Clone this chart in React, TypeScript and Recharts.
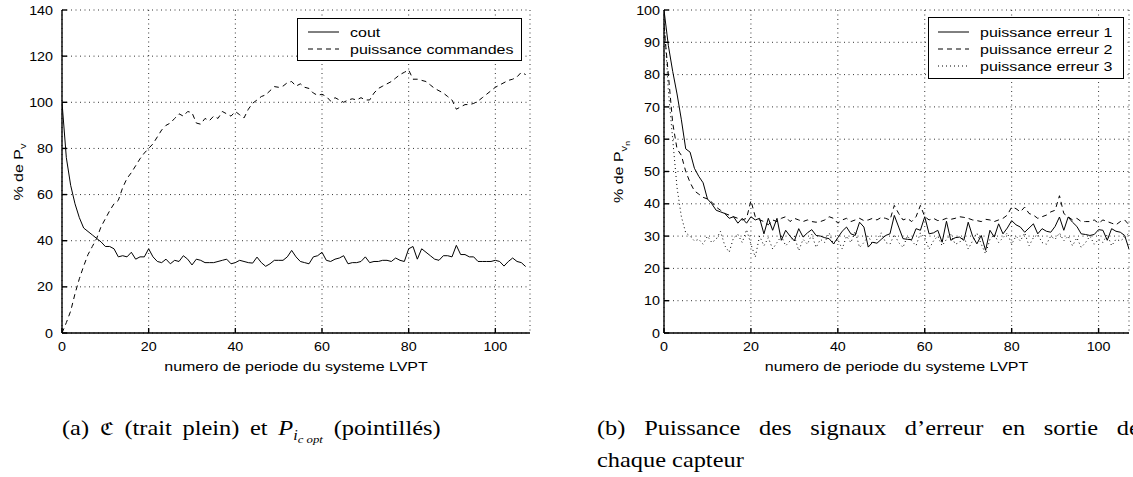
import React from 'react';
import { LineChart, Line, XAxis, YAxis, CartesianGrid, Legend } from 'recharts';

// ---------- data ----------
const periods = Array.from({ length: 108 }, (_, i) => i);

const coutValues = [
  100, 76, 64, 56, 50, 45.5, 44, 42.5, 41, 39.5,
  37.5, 37.5, 36.5, 33, 33.5, 33, 35, 32, 33, 33,
  36.5, 33, 31, 30.5, 32, 30, 31.5, 31, 33.5, 32,
  29.5, 32, 31.5, 30.5, 30.5, 30.5, 31, 31.5, 32, 30,
  30.5, 31.5, 31, 30.5, 30.3, 32.9, 30.5, 28.9, 30, 31.5,
  31.5, 31.5, 33, 35.8, 33, 31, 30.5, 30, 33, 33.5,
  35, 31.5, 31, 32, 32.5, 33.5, 30, 30.5, 30.5, 31,
  33, 30.5, 31, 31, 31.5, 31.5, 31, 32.5, 31.5, 31,
  36.5, 37.5, 32, 36.5, 35, 33.5, 32, 31.5, 33.5, 33.5,
  33, 38, 34, 34, 33, 33, 31, 31, 31, 31,
  31.5, 31, 29, 31, 32.5, 31, 30.5, 28.8,
];

const commandesValues = [
  0, 4.5, 9.5, 17, 23.5, 29, 34, 37.5, 41, 46,
  49.5, 53, 56, 57.5, 63, 67, 69.5, 72.5, 75.5, 78,
  80, 82, 85, 88, 90, 91, 93, 95, 94, 96,
  95.5, 91, 90.5, 93, 92, 94, 93, 96, 95, 94,
  96, 94.6, 93.2, 97, 99.6, 101, 102.5, 103.2, 105, 106.8,
  106.5, 107, 108.5, 109, 107, 108, 106.5, 106, 104, 103,
  103.5, 102.5, 100.5, 102, 101, 100, 101, 101.5, 101, 102,
  101, 101, 104, 106, 107, 108, 109, 110.5, 112, 113,
  114, 110, 110, 109.5, 109, 107.5, 106, 105, 104, 102.5,
  101, 97, 98, 99, 99, 99.5, 100.5, 102, 103.5, 105,
  106.5, 107.5, 108.5, 109.5, 110, 111, 113, 112,
];

const err1Values = [
  100, 89, 81, 74, 66, 57, 56, 51, 48.5, 46.5,
  41.5, 40, 38, 37.5, 37, 35.5, 36, 34, 35.5, 34,
  36, 35, 35.5, 30.7, 35.5, 31.8, 35.5, 28.7, 31.8, 30,
  28.5, 32.3, 29.7, 31, 32, 30.2, 30, 29.5, 29.2, 27.6,
  29.5, 31.5, 32.8, 30.7, 30.2, 34.3, 32.8, 26.6, 28.1, 27.8,
  29, 30.2, 30.7, 36.4, 32.8, 29.2, 29, 28.9, 32.3, 31.8,
  36, 30.7, 31, 31.8, 28.1, 34.6, 28.7, 29.5, 29.7, 28.7,
  34.3, 30, 27.6, 30.2, 25.6, 31.8, 29.7, 33.8, 30.7, 32.5,
  34.8, 33.5, 32.8, 31.2, 32.5, 33.8, 30.7, 32.3, 31.5, 31.2,
  33, 35.9, 31.8, 35.9, 34.3, 33, 30.7, 30.5, 30.2, 30.5,
  32, 31.8, 28.7, 32.3, 31.5, 31.2, 30.2, 26,
];

const err2Values = [
  95, 80, 65, 57, 55, 50, 46.6, 44, 43, 42,
  41.5, 40.5, 39, 38, 37, 36.5, 36, 35.5, 35, 35.5,
  41, 36, 35, 34.5, 33.5, 35, 34.5, 35.5, 36, 34.5,
  35.5, 35, 34.5, 35, 34.5, 34.3, 34.5, 35, 36, 35.5,
  34, 35, 35.5, 34.5, 35, 35.5, 34.8, 35, 35.5, 35,
  35.8, 35.5, 35, 39.5, 37, 35, 35.5, 34.5, 36, 39.5,
  36, 35, 35.5, 34.8, 35, 35.5, 35.2, 35.5, 36, 35.8,
  35.5, 35, 34.8, 34.5, 35.2, 35, 34.5, 35, 35.5, 36.5,
  39, 38.5, 37.5, 39, 37, 36.5, 35.5, 36, 36.5, 37.5,
  38, 42.5, 37, 36, 35, 35.5, 34.5, 34.5, 34.5, 35,
  34, 35, 34.5, 34, 33.5, 34.5, 35, 33.5,
];

const err3Values = [
  98, 75, 60, 45, 36, 31, 30, 28.5, 29, 27.5,
  30, 28, 29, 31.5, 27, 25, 29.5, 30.5, 28, 32,
  27.5, 23.5, 30, 27, 29.5, 26, 28, 30, 27, 28.5,
  30, 25.5, 29, 27.5, 30.5, 26.5, 29, 28, 31, 27.5,
  29, 26, 30, 28, 31.5, 26.5, 28, 30, 27.5, 29,
  31, 28, 27.5, 30.5, 28, 26.5, 30, 28.5, 27, 31,
  29.5, 26, 28.5, 30, 27, 29, 30.5, 27.5, 28, 30,
  26, 28.5, 31, 27.5, 24.5, 29, 30.5, 28, 29.5, 31,
  27.5, 30, 28.5, 31, 27, 29.5, 30.5, 28, 27.5, 30,
  29, 31, 28.5, 30, 27, 29.5, 26.5, 28, 30, 27.5,
  29, 28, 30.5, 27, 29, 28.5, 29.5, 31,
];

const xTicks = [0, 20, 40, 60, 80, 100];
const leftYTicks = [0, 20, 40, 60, 80, 100, 120, 140];
const rightYTicks = [0, 10, 20, 30, 40, 50, 60, 70, 80, 90, 100];

const leftNames = ['cout', 'puissance commandes'];
const rightNames = ['puissance erreur 1', 'puissance erreur 2', 'puissance erreur 3'];
const xLabel = 'numero de periode du systeme LVPT';

const leftData = periods.map((x, i) => ({ x, cout: coutValues[i], commandes: commandesValues[i] }));
const rightData = periods.map((x, i) => ({
  x,
  e1: err1Values[i],
  e2: err2Values[i],
  e3: err3Values[i],
}));

// ---------- styles ----------
const SANS = "'Liberation Sans', Arial, Helvetica, sans-serif";
const SERIF = "'Liberation Serif', 'DejaVu Serif', serif";
const DASH = '5 4';
const DOT = '1 3';
const AX = 1.4;
const TICK_SX = 1.1;
const TEXT_SX = 1.23;

const Tick = (props: any) => {
  const { x, y, payload, textAnchor, verticalAnchor } = props;
  const dy = verticalAnchor === 'start' ? '0.71em' : '0.355em';
  return (
    <text transform={`translate(${x},${y}) scale(${TICK_SX},1)`} textAnchor={textAnchor} dy={dy}
      fontSize={13} fontFamily={SANS} fill="#000">
      {payload.value}
    </text>
  );
};

const XLabel = (props: any) => {
  const vb = props.viewBox || {};
  const cx = (vb.x || 0) + (vb.width || 0) / 2;
  const by = (vb.y || 0) + (vb.height || 0) - 9;
  return (
    <text transform={`translate(${cx},${by}) scale(${TEXT_SX},1)`} textAnchor="middle" fontSize={13}
      fontFamily={SANS} fill="#000">
      {xLabel}
    </text>
  );
};

type Item = { name: string; dash?: string };

const LegendBox = ({ items, width, height, sampleX1, sampleX2, textX, rowY, rowStep }:
  { items: Item[]; width: number; height: number; sampleX1: number; sampleX2: number; textX: number; rowY: number; rowStep: number }) => (
  <svg width={width} height={height} style={{ display: 'block' }}>
    <rect x={0.5} y={0.5} width={width - 1} height={height - 1} fill="#fff" stroke="#000" strokeWidth={1} />
    {items.map((it, i) => (
      <g key={i}>
        <line x1={sampleX1} x2={sampleX2} y1={rowY + i * rowStep} y2={rowY + i * rowStep} stroke="#000" strokeWidth={1} strokeDasharray={it.dash} />
        <text transform={`translate(${textX},${rowY + i * rowStep + 4.5}) scale(${TEXT_SX},1)`} fontSize={13}
          fontFamily={SANS} fill="#000">{it.name}</text>
      </g>
    ))}
  </svg>
);

const LeftChart = () => (
  <LineChart width={540} height={380} data={leftData} margin={{ top: 10, right: 10, left: 22, bottom: 0 }}
    style={{ position: 'absolute', left: 0, top: 0 }}>
    <CartesianGrid xAxisId="b" yAxisId="l" stroke="#000" strokeDasharray="1 3.5" strokeWidth={0.8} />
    <XAxis xAxisId="b" dataKey="x" type="number" domain={[0, 108]} ticks={xTicks} interval={0}
      allowDataOverflow tickSize={-5} tickMargin={14} height={47} stroke="#000" strokeWidth={AX}
      tick={<Tick />} label={{ content: (p: any) => <XLabel {...p} /> }} />
    <XAxis xAxisId="t" orientation="top" dataKey="x" type="number" domain={[0, 108]} ticks={xTicks}
      interval={0} allowDataOverflow tickSize={-5} height={0} stroke="#000" strokeWidth={AX} tickFormatter={() => ''} />
    <YAxis yAxisId="l" domain={[0, 140]} ticks={leftYTicks} interval={0} tickSize={-5} tickMargin={14}
      width={40} stroke="#000" strokeWidth={AX} tick={<Tick />}
      label={{
        content: () => (
          <text transform={`translate(23,172) rotate(-90) scale(${TEXT_SX},1)`} textAnchor="middle" fontSize={13}
            fontFamily={SANS} fill="#000">
            % de P<tspan dy={3} fontSize={9}>v</tspan>
          </text>
        ),
      }} />
    <YAxis yAxisId="r" orientation="right" domain={[0, 140]} ticks={leftYTicks} interval={0} tickSize={-5}
      width={0} stroke="#000" strokeWidth={AX} tickFormatter={() => ''} />
    <Line xAxisId="b" yAxisId="l" dataKey="cout" name={leftNames[0]} type="linear" stroke="#000" strokeWidth={1}
      dot={false} isAnimationActive={false} />
    <Line xAxisId="b" yAxisId="l" dataKey="commandes" name={leftNames[1]} type="linear" stroke="#000" strokeWidth={1}
      strokeDasharray={DASH} dot={false} isAnimationActive={false} />
    <Legend layout="horizontal" align="center" verticalAlign="middle"
      wrapperStyle={{ position: 'absolute', left: 297, top: 18, width: 225, height: 43 }}
      content={() => (
        <LegendBox items={[{ name: leftNames[0] }, { name: leftNames[1], dash: DASH }]}
          width={225} height={43} sampleX1={11} sampleX2={42} textX={53} rowY={14} rowStep={17} />
      )} />
  </LineChart>
);

const RightChart = () => (
  <LineChart width={580} height={380} data={rightData} margin={{ top: 10, right: 11, left: 64, bottom: 0 }}
    style={{ position: 'absolute', left: 560, top: 0 }}>
    <CartesianGrid xAxisId="b" yAxisId="l" stroke="#000" strokeDasharray="1 3.5" strokeWidth={0.8} />
    <XAxis xAxisId="b" dataKey="x" type="number" domain={[0, 107]} ticks={xTicks} interval={0}
      allowDataOverflow tickSize={-5} tickMargin={14} height={47} stroke="#000" strokeWidth={AX}
      tick={<Tick />} label={{ content: (p: any) => <XLabel {...p} /> }} />
    <XAxis xAxisId="t" orientation="top" dataKey="x" type="number" domain={[0, 107]} ticks={xTicks}
      interval={0} allowDataOverflow tickSize={-5} height={0} stroke="#000" strokeWidth={AX} tickFormatter={() => ''} />
    <YAxis yAxisId="l" domain={[0, 100]} ticks={rightYTicks} interval={0} tickSize={-5} tickMargin={9}
      width={40} stroke="#000" strokeWidth={AX} tick={<Tick />}
      label={{
        content: () => (
          <text transform={`translate(63,172) rotate(-90) scale(${TEXT_SX},1)`} textAnchor="middle" fontSize={13}
            fontFamily={SANS} fill="#000">
            % de P<tspan dy={4} fontSize={9}>v</tspan><tspan dy={3} fontSize={7}>n</tspan>
          </text>
        ),
      }} />
    <YAxis yAxisId="r" orientation="right" domain={[0, 100]} ticks={rightYTicks} interval={0} tickSize={-5}
      width={0} stroke="#000" strokeWidth={AX} tickFormatter={() => ''} />
    <Line xAxisId="b" yAxisId="l" dataKey="e3" name={rightNames[2]} type="linear" stroke="#000" strokeWidth={1}
      strokeDasharray={DOT} dot={false} isAnimationActive={false} />
    <Line xAxisId="b" yAxisId="l" dataKey="e2" name={rightNames[1]} type="linear" stroke="#000" strokeWidth={1}
      strokeDasharray={DASH} dot={false} isAnimationActive={false} />
    <Line xAxisId="b" yAxisId="l" dataKey="e1" name={rightNames[0]} type="linear" stroke="#000" strokeWidth={1}
      dot={false} isAnimationActive={false} />
    <Legend layout="horizontal" align="center" verticalAlign="middle"
      wrapperStyle={{ position: 'absolute', left: 368, top: 17, width: 196, height: 62 }}
      content={() => (
        <LegendBox items={[{ name: rightNames[0] }, { name: rightNames[1], dash: DASH }, { name: rightNames[2], dash: DOT }]}
          width={196} height={62} sampleX1={10} sampleX2={41} textX={52} rowY={15} rowStep={17} />
      )} />
  </LineChart>
);

const CAP_SX = 1.16;

const captionBase: React.CSSProperties = {
  position: 'absolute',
  fontFamily: SERIF,
  fontSize: 21,
  lineHeight: '22px',
  whiteSpace: 'nowrap',
  color: '#000',
  transformOrigin: '0 0',
  transform: `scaleX(${CAP_SX})`,
};

const captionB1 = ['(b)', 'Puissance', 'des', 'signaux', 'd\u2019erreur', 'en', 'sortie', 'de'];

export default function App() {
  return (
    <div style={{ position: 'absolute', left: 0, top: 0, width: 1133, height: 477, overflow: 'hidden', background: '#fff' }}>
      <LeftChart />
      <RightChart />
      <div style={{ ...captionBase, left: 62, top: 417, wordSpacing: 4 }}>
        (a) <span style={{ fontFamily: "'DejaVu Serif', serif", fontSize: 18 }}>{'\u212D'}</span> (trait plein) et{' '}
        <i>P</i>
        <span style={{ fontSize: 14, position: 'relative', top: 5 }}>
          <i>i</i>
          <span style={{ fontSize: 11, position: 'relative', top: 3, wordSpacing: 0 }}><i>c opt</i></span>
        </span>{' '}
        (pointillés)
      </div>
      <div style={{ ...captionBase, left: 597, top: 417, width: 468, display: 'flex', justifyContent: 'space-between' }}>
        {captionB1.map((w, i) => (
          <span key={i}>{w}</span>
        ))}
      </div>
      <div style={{ ...captionBase, left: 597, top: 449 }}>chaque capteur</div>
    </div>
  );
}
